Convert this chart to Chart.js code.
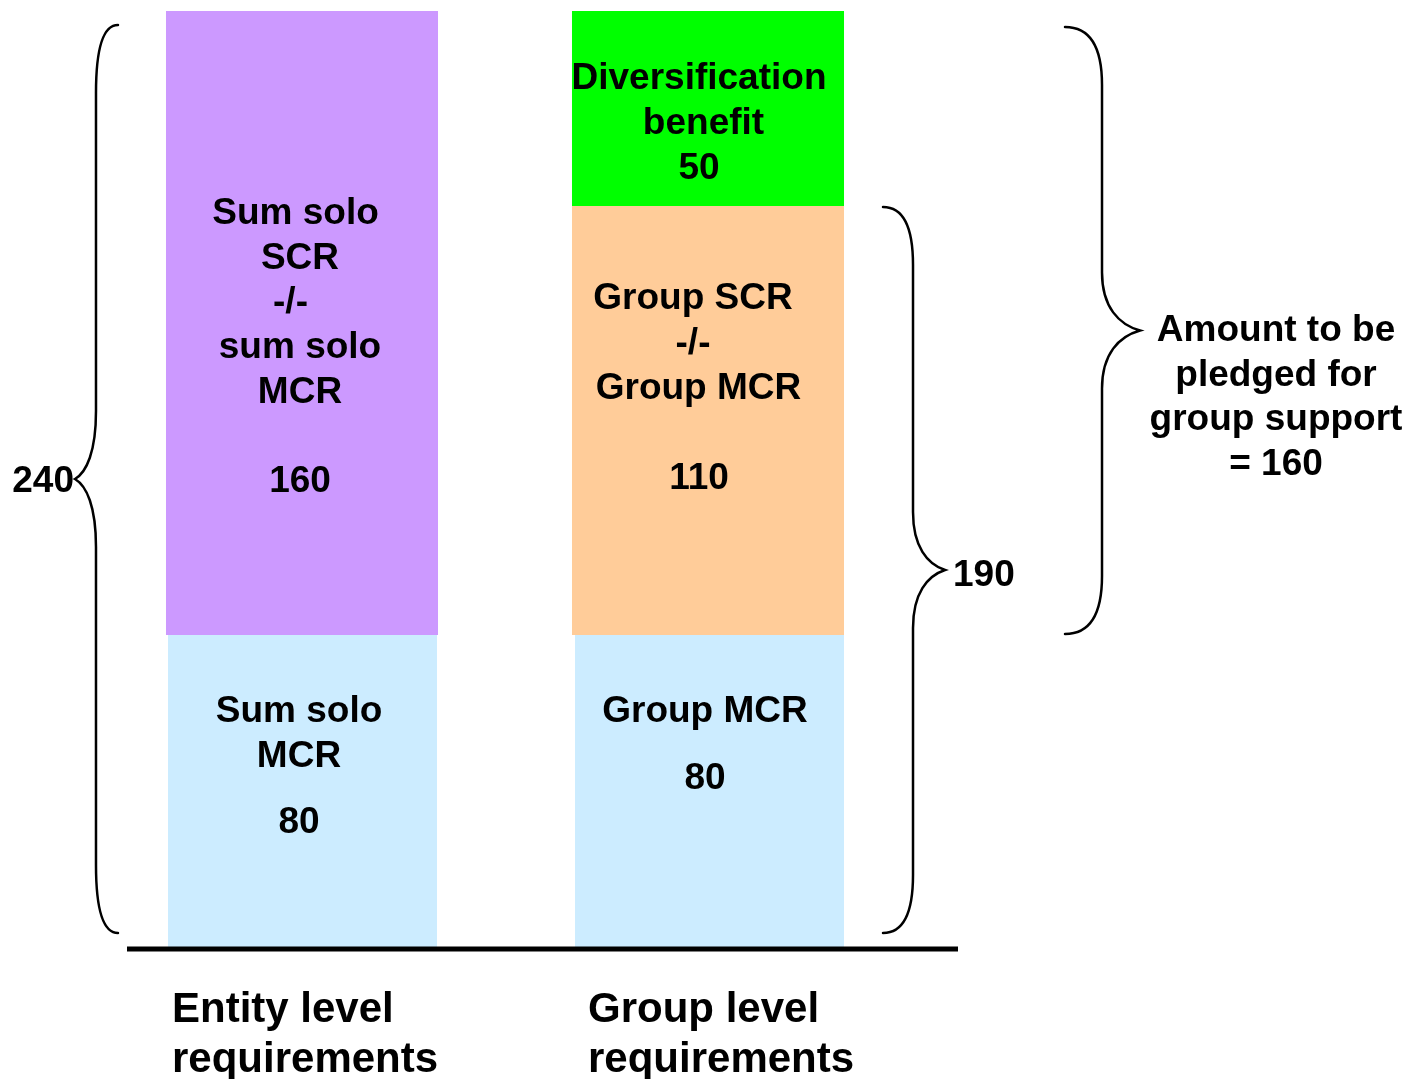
<!DOCTYPE html>
<html>
<head>
<meta charset="utf-8">
<script src="https://cdn.jsdelivr.net/npm/chart.js@4/dist/chart.umd.min.js"></script>
<style>
  html, body { margin: 0; padding: 0; background: #ffffff; }
  #wrap { width: 1408px; height: 1079px; }
</style>
</head>
<body>
<div id="wrap"><canvas id="c" width="1408" height="1079"></canvas></div>
<script>
// Capital requirements: entity level vs group level
const categories = [['Entity level', 'requirements'], ['Group level', 'requirements']];
const mcrValues = [80, 80];             // minimum capital requirement
const scrExcessValues = [160, 110];     // SCR in excess of MCR
const diversificationValues = [0, 50];  // diversification benefit (group level only)

const mcrText = [['Sum solo', 'MCR'], ['Group MCR']];
const scrExcessText = [['Sum solo', 'SCR', '-/-', 'sum solo', 'MCR'], ['Group SCR', '-/-', 'Group MCR']];
const diversificationText = [[], ['Diversification', 'benefit']];
const pledgeText = ['Amount to be', 'pledged for', 'group support'];

// Derived totals shown by the braces
const entityTotal = mcrValues[0] + scrExcessValues[0] + diversificationValues[0];
const groupSolvency = mcrValues[1] + scrExcessValues[1];
const pledgeAmount = entityTotal - mcrValues[1];

const FONT = '"Liberation Sans", Arial, Helvetica, sans-serif';
const COLORS = {
  mcr: '#CCECFF',
  scrExcess: ['#CC99FF', '#FFCC99'],
  diversification: '#00FF00'
};

// Text placement inside each segment: baseline offsets from the segment top,
// horizontal nudges from the bar centre. The last entry is the value line.
const segmentLayout = {
  mcr: [
    { base: [87, 132, 198], dx: [-3, -3, -3] },
    { base: [87, 154], dx: [-3, -3] }
  ],
  scrExcess: [
    { base: [213, 258, 302, 347, 392, 481], dx: [-6.5, -2, -11.5, -2, -2, -2] },
    { base: [103, 148, 193, 283], dx: [-15, -15, -9.5, -9] }
  ],
  diversification: [
    null,
    { base: [78, 123, 168], dx: [-9, -4.5, -9] }
  ]
};

function drawBrace(ctx, xEnd, xMid, xTip, yTop, yBot, c) {
  const yTip = (yTop + yBot) / 2;
  const k = xTip - xMid;
  ctx.beginPath();
  ctx.moveTo(xEnd, yTop);
  ctx.quadraticCurveTo(xMid, yTop, xMid, yTop + c);
  ctx.lineTo(xMid, yTip - c);
  ctx.bezierCurveTo(xMid, yTip - c * 0.4, xMid + k * 0.45, yTip - c * 0.1, xTip, yTip);
  ctx.bezierCurveTo(xMid + k * 0.45, yTip + c * 0.1, xMid, yTip + c * 0.4, xMid, yTip + c);
  ctx.lineTo(xMid, yBot - c);
  ctx.quadraticCurveTo(xMid, yBot, xEnd, yBot);
  ctx.stroke();
  return yTip;
}

const annotations = {
  id: 'annotations',
  afterDatasetsDraw(chart) {
    const ctx = chart.ctx;
    const y = chart.scales.y;
    const area = chart.chartArea;
    const metas = [0, 1, 2].map(i => chart.getDatasetMeta(i).data);
    const bar1 = metas[1][0], bar2 = metas[1][1];
    const left1 = bar1.x - bar1.width / 2;
    const left2 = bar2.x - bar2.width / 2;
    const right2 = bar2.x + bar2.width / 2;

    ctx.save();
    ctx.fillStyle = '#000';
    ctx.strokeStyle = '#000';

    // baseline axis
    const zeroY = y.getPixelForValue(0);
    ctx.lineWidth = 5;
    ctx.beginPath();
    ctx.moveTo(area.left + 28, zeroY + 2);
    ctx.lineTo(area.right + 47, zeroY + 2);
    ctx.stroke();

    // segment labels
    ctx.font = 'bold 37px ' + FONT;
    ctx.textAlign = 'center';
    ctx.textBaseline = 'alphabetic';
    const groups = [
      { el: metas[0], text: mcrText, values: mcrValues, layout: segmentLayout.mcr },
      { el: metas[1], text: scrExcessText, values: scrExcessValues, layout: segmentLayout.scrExcess },
      { el: metas[2], text: diversificationText, values: diversificationValues, layout: segmentLayout.diversification }
    ];
    groups.forEach(g => {
      g.el.forEach((bar, i) => {
        const lay = g.layout[i];
        if (!lay || !g.values[i]) return;
        const lines = g.text[i].concat([String(g.values[i])]);
        const cx = metas[1][i].x;
        lines.forEach((s, j) => {
          ctx.fillText(s, cx + lay.dx[j], bar.y + lay.base[j]);
        });
      });
    });

    // category labels under the axis
    ctx.font = 'bold 42px ' + FONT;
    ctx.textAlign = 'left';
    const catX = [left1 + 6, left2 + 16];
    categories.forEach((lines, i) => {
      lines.forEach((s, j) => ctx.fillText(s, catX[i], zeroY + 75 + j * 50));
    });

    // braces
    ctx.lineWidth = 2.5;
    ctx.lineCap = 'round';
    ctx.font = 'bold 37px ' + FONT;

    const tip1 = drawBrace(ctx, left1 - 48, left1 - 70, left1 - 91,
      y.getPixelForValue(entityTotal) + 14, zeroY - 14, 68);
    ctx.textAlign = 'right';
    ctx.fillText(String(entityTotal), left1 - 92, tip1 + 13);

    const tip2 = drawBrace(ctx, right2 + 39, right2 + 69, right2 + 101,
      y.getPixelForValue(groupSolvency) + 1, zeroY - 14, 58);
    ctx.textAlign = 'left';
    ctx.fillText(String(groupSolvency), right2 + 109, tip2 + 16);

    drawBrace(ctx, right2 + 221, right2 + 258, right2 + 296,
      y.getPixelForValue(entityTotal) + 16, y.getPixelForValue(mcrValues[1]) - 1, 58);
    ctx.textAlign = 'center';
    const topY = y.getPixelForValue(entityTotal);
    const pledgeLines = pledgeText.concat(['= ' + pledgeAmount]);
    pledgeLines.forEach((s, j) => ctx.fillText(s, right2 + 432, topY + 330 + j * 44.7));

    ctx.restore();
  }
};

new Chart(document.getElementById('c'), {
  type: 'bar',
  data: {
    labels: categories.map(c => c.join(' ')),
    datasets: [
      {
        label: 'MCR', data: mcrValues, backgroundColor: COLORS.mcr,
        borderColor: '#ffffff',
        borderSkipped: false,
        borderWidth: ctx => ctx.dataIndex === 0
          ? { left: 2, right: 1, top: 0, bottom: 0 }
          : { left: 3, right: 0, top: 0, bottom: 0 }
      },
      { label: 'SCR -/- MCR', data: scrExcessValues, backgroundColor: COLORS.scrExcess, borderWidth: 0 },
      { label: 'Diversification benefit', data: diversificationValues, backgroundColor: COLORS.diversification, borderWidth: 0 }
    ]
  },
  options: {
    responsive: false,
    animation: false,
    devicePixelRatio: 1,
    layout: { padding: { left: 99, right: 497, top: 11, bottom: 132 } },
    datasets: { bar: { categoryPercentage: 1.0, barPercentage: 0.67 } },
    scales: {
      x: { stacked: true, display: false },
      y: { stacked: true, display: false, min: 0, max: 240 }
    },
    plugins: {
      legend: { display: false },
      tooltip: { enabled: false }
    },
    events: []
  },
  plugins: [annotations]
});
</script>
</body>
</html>
